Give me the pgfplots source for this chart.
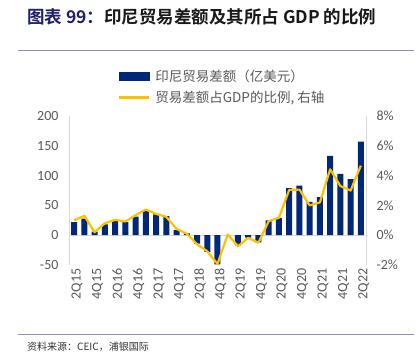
\documentclass[border=0pt]{standalone}
\usepackage{pgfplots}
\pgfplotsset{compat=1.18}
\usepackage{fontspec}
\setmainfont{Carlito}
\newfontfamily\cjk{Noto Sans CJK SC}
\newfontfamily\cjkb{Noto Sans CJK SC Bold}
\definecolor{barblue}{RGB}{0,40,120}
\definecolor{gold}{RGB}{255,192,0}
\definecolor{txtgray}{RGB}{89,89,89}
\definecolor{titlenavy}{RGB}{31,31,110}
\definecolor{lav}{RGB}{140,140,200}
\definecolor{axgray}{RGB}{217,217,217}
\begin{document}
\begin{tikzpicture}[x=1pt,y=1pt]
\path[use as bounding box] (0,0) rectangle (416,361);
% title
\node[anchor=west, inner sep=0pt] at (27,344) {\fontsize{17.5}{19}\cjkb\textcolor{titlenavy}{图表 99：}\textcolor{black!90}{印尼贸易差额及其所占 GDP 的比例}};
\draw[lav, line width=0.8pt] (18,311) -- (414,311);
\draw[lav, line width=0.8pt] (18,27) -- (414,27);
\node[anchor=west, inner sep=0pt, text=black!80] at (27,14.5) {\fontsize{10}{12}\cjk 资料来源：CEIC，浦银国际};

\begin{axis}[
  at={(69pt,96pt)}, anchor=south west,
  scale only axis, width=297pt, height=149pt,
  xmin=-0.5, xmax=28.5, ymin=-50, ymax=200,
  axis line style={draw=none},
  major tick length=0pt,
  xtick={0,2,...,28},
  xticklabels={2Q15,4Q15,2Q16,4Q16,2Q17,4Q17,2Q18,4Q18,2Q19,4Q19,2Q20,4Q20,2Q21,4Q21,2Q22},
  x tick label style={rotate=90, anchor=east, font=\fontsize{14}{16}\selectfont, text=txtgray, yshift=-3pt},
  ytick={-50,0,50,100,150,200},
  yticklabels={-50,0,50,100,150,200},
  y tick label style={font=\fontsize{14}{16}\selectfont, text=txtgray, xshift=-7pt},
  axis y line*=left,
  clip=false,
]
\draw[axgray, line width=0.8pt] (axis cs:-0.5,-50) -- (axis cs:-0.5,200);
\draw[axgray, line width=0.8pt] (axis cs:28.5,-50) -- (axis cs:28.5,200);
\draw[axgray, line width=0.8pt] (axis cs:-0.5,0) -- (axis cs:28.5,0);
\addplot[ybar, bar width=6pt, fill=barblue, draw=none] coordinates {
(0,22) (1,28) (2,6) (3,18) (4,25) (5,22) (6,31) (7,41) (8,35) (9,32)
(10,9) (11,3) (12,-14) (13,-28) (14,-49) (15,0) (16,-17) (17,-4) (18,-12)
(19,25) (20,29) (21,79) (22,83) (23,56) (24,64) (25,133) (26,103) (27,94) (28,157)
};
\end{axis}

\begin{axis}[
  at={(69pt,96pt)}, anchor=south west,
  scale only axis, width=297pt, height=149pt,
  xmin=-0.5, xmax=28.5, ymin=-2, ymax=8,
  axis line style={draw=none},
  major tick length=0pt,
  xtick=\empty,
  axis y line*=right,
  ytick={-2,0,2,4,6,8},
  yticklabels={-2\%,0\%,2\%,4\%,6\%,8\%},
  y tick label style={font=\fontsize{14}{16}\selectfont, text=txtgray, xshift=7pt},
  clip=false,
  legend style={at={(0.165,1.31)}, anchor=north west, draw=none, fill=none,
    inner sep=0pt, row sep=8pt, font=\fontsize{13.5}{15}\cjk, text=txtgray,
    nodes={inner sep=0pt}},
  legend cell align=left,
]
\addlegendimage{legend image code/.code={\fill[barblue] (0pt,-4pt) rectangle (30pt,4pt); \path (35pt,0pt);}}
\addlegendentry{印尼贸易差额（亿美元）}
\addplot[gold, line width=2.2pt, line join=round, legend image code/.code={\draw[gold, line width=2.2pt] (0pt,0pt) -- (30pt,0pt); \path (35pt,0pt);}] coordinates {
(0,1.0) (1,1.3) (2,0.2) (3,0.8) (4,1.03) (5,0.92) (6,1.34) (7,1.72) (8,1.43) (9,1.23)
(10,0.42) (11,0.1) (12,-0.6) (13,-1.08) (14,-1.93) (15,0.05) (16,-0.74) (17,-0.18) (18,-0.5)
(19,0.94) (20,1.17) (21,3.04) (22,3.06) (23,2.0) (24,2.2) (25,4.42) (26,3.3) (27,3.0) (28,4.67)
};
\addlegendentry{贸易差额占GDP的比例, 右轴}
\end{axis}
\end{tikzpicture}
\end{document}
